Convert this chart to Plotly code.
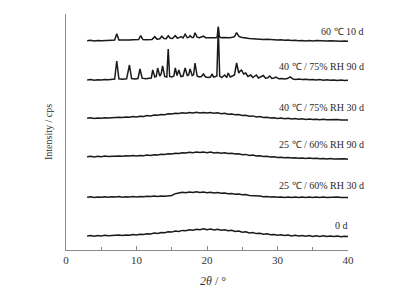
import plotly.graph_objects as go

# ---------------- data ----------------
grid = [3.0, 3.5, 4.0, 4.5, 5.0, 5.5, 6.0, 6.5, 7.0, 7.5, 8.0, 8.5, 9.0, 9.5, 10.0, 10.5,
        11.0, 11.5, 12.0, 12.5, 13.0, 13.5, 14.0, 14.5, 15.0, 15.5, 16.0, 16.5, 17.0, 17.5,
        18.0, 18.5, 19.0, 19.5, 20.0, 20.5, 21.0, 21.5, 22.0, 22.5, 23.0, 23.5, 24.0, 24.5,
        25.0, 25.5, 26.0, 26.5, 27.0, 27.5, 28.0, 28.5, 29.0, 29.5, 30.0, 30.5, 31.0, 31.5,
        32.0, 32.5, 33.0, 33.5, 34.0, 34.5, 35.0, 35.5, 36.0, 36.5, 37.0, 37.5, 38.0, 38.5,
        39.0, 39.5, 40.0]

int_0d = [0.0, 0.5, -0.3, 0.6, 0.0, 0.7, 0.2, 0.5, 0.4, 1.0, 0.5, 1.1, 0.7, 1.5, 1.0, 1.8,
          1.4, 2.3, 2.0, 2.9, 2.5, 3.5, 3.2, 4.2, 3.9, 5.0, 4.5, 5.6, 5.2, 6.3, 5.7, 6.8,
          6.2, 7.3, 6.3, 7.0, 6.1, 6.8, 5.7, 6.2, 5.2, 5.7, 4.5, 5.0, 3.8, 4.2, 3.1, 3.5,
          2.4, 2.8, 1.8, 2.2, 1.2, 1.6, 0.8, 1.2, 0.4, 0.9, 0.1, 0.7, -0.1, 0.5, -0.3, 0.4,
          -0.4, 0.3, -0.5, 0.2, -0.6, 0.0, -0.5, 0.1, -0.7, -0.2, -0.6]

int_25_30d = [0.0, 0.5, -0.2, 0.4, 0.1, 0.6, 0.0, 0.5, 0.2, 0.7, 0.1, 0.6, 0.3, 0.8, 0.4, 0.9,
              0.5, 1.1, 0.7, 1.2, 0.9, 1.4, 1.1, 1.7, 1.8, 3.6, 4.4, 5.0, 4.6, 5.4, 4.8, 5.5,
              4.9, 5.3, 4.6, 5.0, 4.3, 4.7, 4.0, 4.3, 3.6, 3.9, 3.1, 3.3, 2.5, 2.7, 1.9, 1.9,
              1.2, 1.2, 0.6, 0.8, 0.2, 0.5, 0.0, 0.4, -0.1, 0.3, -0.2, 0.3, -0.1, 0.4, -0.2, 0.2,
              -0.3, 0.2, -0.2, 0.3, -0.3, 0.1, -0.2, 0.2, -0.3, 0.1, -0.2]

int_25_90d = [0.0, 0.5, -0.2, 0.4, 0.0, 0.6, 0.1, 0.5, 0.3, 0.8, 0.4, 0.9, 0.6, 1.1, 0.8, 1.3,
              1.0, 1.6, 1.3, 1.9, 1.7, 2.4, 2.1, 2.9, 2.6, 3.4, 3.1, 3.9, 3.6, 4.4, 4.0, 4.7,
              4.1, 4.8, 4.0, 4.6, 3.8, 4.3, 3.5, 4.0, 3.1, 3.5, 2.6, 3.0, 2.0, 2.3, 1.3, 1.6,
              0.7, 1.0, 0.1, 0.4, -0.4, -0.1, -0.8, -0.5, -1.1, -0.7, -1.3, -1.0, -1.5, -1.2,
              -1.7, -1.3, -1.9, -1.5, -2.0, -1.7, -2.2, -1.8, -2.3, -2.0, -2.4, -2.1, -2.5]

int_40_30d = [0.0, 0.5, -0.2, 0.4, 0.1, 0.6, 0.2, 0.7, 0.5, 1.0, 0.7, 1.3, 1.0, 1.7, 1.4, 2.1,
              1.9, 2.7, 2.4, 3.3, 3.0, 3.9, 3.6, 4.5, 4.2, 5.0, 4.7, 5.5, 5.0, 5.8, 5.2, 6.0,
              5.3, 5.9, 5.2, 5.8, 5.0, 5.5, 4.6, 5.0, 4.1, 4.4, 3.5, 3.8, 2.8, 3.1, 2.1, 2.4,
              1.4, 1.7, 0.8, 1.1, 0.3, 0.6, -0.1, 0.3, -0.4, 0.0, -0.7, -0.3, -0.9, -0.5,
              -1.1, -0.7, -1.2, -0.9, -1.4, -1.0, -1.5, -1.2, -1.6, -1.3, -1.8, -1.4, -1.7]

x_40_90d = [3.0, 3.5, 4.0, 4.5, 5.0, 5.5, 6.0, 6.5, 6.9, 7.2, 7.5, 8.0, 8.6, 9.0, 9.3, 9.8,
            10.2, 10.5, 10.8, 11.3, 11.8, 12.1, 12.3, 12.6, 12.8, 13.0, 13.3, 13.5, 13.7, 14.0,
            14.3, 14.5, 14.7, 15.0, 15.3, 15.5, 15.75, 16.0, 16.3, 16.6, 16.9, 17.2, 17.4, 17.6,
            17.9, 18.1, 18.3, 18.6, 18.9, 19.2, 19.5, 19.8, 20.2, 20.5, 20.7, 20.95, 21.2, 21.4,
            21.6, 21.8, 22.1, 22.5, 22.8, 23.0, 23.3, 23.6, 23.9, 24.2, 24.5, 24.7, 24.9, 25.2,
            25.5, 25.8, 26.2, 26.5, 27.0, 27.3, 27.6, 28.0, 28.3, 28.6, 28.9, 29.2, 29.5, 29.8,
            30.2, 30.6, 31.0, 31.4, 31.8, 32.2, 32.6, 33.0, 33.5, 34.0, 34.5, 35.0, 35.5, 36.0,
            36.5, 37.0, 37.5, 38.0, 38.5, 39.0, 39.5, 40.0]
int_40_90d = [0.0, 0.4, -0.2, 0.3, 0.0, 0.5, 0.2, 0.6, 1.0, 19.0, 1.2, 0.8, 1.2, 15.0, 1.4, 1.0,
              1.5, 11.0, 1.8, 1.2, 1.6, 2.0, 10.0, 3.0, 3.5, 12.0, 4.0, 6.0, 14.0, 3.5,
              3.0, 31.0, 3.5, 3.0, 4.0, 12.0, 4.5, 10.0, 3.5, 4.0, 12.0, 4.5, 5.0, 11.0,
              4.5, 5.5, 17.0, 4.0, 3.0, 3.5, 6.0, 3.0, 2.5, 3.0, 6.0, 3.0, 3.5, 4.0,
              52.0, 4.0, 2.5, 5.0, 2.5, 7.0, 3.0, 4.0, 5.0, 17.0, 7.0, 9.0, 10.0, 6.0,
              7.0, 3.5, 5.0, 2.5, 5.0, 2.0, 3.0, 4.5, 1.8, 2.2, 4.0, 1.6, 2.0, 3.0,
              1.2, 1.5, 1.0, 1.4, 3.2, 0.9, 0.6, 1.0, 0.4, 0.7, 0.2, 0.5, 0.0, 0.4,
              -0.2, 0.2, -0.3, 0.1, -0.4, 0.0, -0.5, -0.3]

x_60_10d = [3.0, 3.5, 4.0, 4.5, 5.0, 5.5, 6.0, 6.5, 6.9, 7.2, 7.5, 8.0, 8.5, 9.0, 9.5, 10.0,
            10.3, 10.6, 10.9, 11.3, 11.8, 12.2, 12.6, 12.9, 13.3, 13.6, 13.9, 14.2, 14.5, 14.8,
            15.1, 15.5, 15.8, 16.0, 16.3, 16.6, 16.9, 17.2, 17.4, 17.6, 17.9, 18.1, 18.3, 18.6,
            18.9, 19.2, 19.5, 19.8, 20.2, 20.6, 21.0, 21.3, 21.45, 21.6, 21.75, 22.0, 22.4, 22.8,
            23.2, 23.6, 23.9, 24.2, 24.5, 24.8, 25.1, 25.5, 26.0, 26.5, 27.0, 27.5, 28.0, 28.5,
            29.0, 29.5, 30.0, 30.5, 31.0, 31.5, 32.0, 32.5, 33.0, 33.5, 34.0, 34.5, 35.0, 35.5,
            36.0, 36.5, 37.0, 37.5, 38.0, 38.5, 39.0, 39.5, 40.0]
int_60_10d = [0.0, 0.4, -0.2, 0.3, 0.0, 0.4, 0.1, 0.5, 0.6, 7.0, 0.8, 0.5, 0.9, 0.6, 1.0, 0.8,
              1.2, 5.0, 1.2, 1.0, 1.5, 1.3, 4.0, 1.6, 2.0, 4.5, 2.2, 2.0, 5.0, 2.4,
              2.2, 5.0, 2.6, 2.8, 4.0, 2.7, 6.5, 3.0, 3.3, 5.0, 3.0, 3.5, 8.0, 3.6,
              3.0, 3.4, 4.5, 3.0, 3.2, 2.8, 3.3, 3.0, 4.0, 14.0, 4.0, 3.0, 3.2, 2.8,
              3.0, 3.5, 4.0, 8.0, 4.5, 3.5, 3.0, 2.8, 2.2, 2.0, 1.6, 1.8, 1.2, 1.4,
              0.9, 1.1, 0.6, 0.9, 0.4, 0.7, 0.2, 0.5, 0.0, 0.3, -0.2, 0.2, -0.3, 0.1,
              -0.3, 0.0, -0.4, -0.1, -0.4, -0.2, -0.5, -0.3, -0.5]

sample_labels = ["0 d", "25 ℃ / 60% RH 30 d", "25 ℃ / 60% RH 90 d",
                 "40 ℃ / 75% RH 30 d", "40 ℃ / 75% RH 90 d", "60 ℃ 10 d"]
offsets = [14.0, 52.7, 93.3, 131.7, 170.0, 209.3]
x_tick_vals = [0, 10, 20, 30, 40]
x_title = "<i>2θ</i> / °"
y_title = "Intensity / cps"

series_x = [grid, grid, grid, grid, x_40_90d, x_60_10d]
series_y = [int_0d, int_25_30d, int_25_90d, int_40_30d, int_40_90d, int_60_10d]

# label placement (style): right edge in paper units, vertical offset above trace
label_px = [1.0075, 1.064, 1.064, 1.064, 1.064, 1.064]
label_dy = [11.0, 12.0, 12.0, 11.0, 14.0, 9.0]

SERIF = "Liberation Serif, Times New Roman, serif"

fig = go.Figure()
for xs, ys, off, name in zip(series_x, series_y, offsets, sample_labels):
    fig.add_trace(go.Scatter(
        x=xs, y=[v + off for v in ys], mode="lines", name=name,
        line=dict(color="#1a1a1a", width=1.5), showlegend=False, hoverinfo="skip"))

for name, off, lx, dy in zip(sample_labels, offsets, label_px, label_dy):
    fig.add_annotation(x=lx, y=off + dy, xref="paper", yref="y", text=name,
                       showarrow=False, xanchor="right", yanchor="middle",
                       font=dict(family=SERIF, size=10, color="#2a2a2a"))

fig.add_annotation(x=0.52, y=0, xref="paper", yref="paper", text=x_title,
                   showarrow=False, xanchor="center", yanchor="middle", yshift=-31,
                   font=dict(family=SERIF, size=12, color="#333"))
fig.add_annotation(x=-18 / 282, y=0.5, xref="paper", yref="paper", text=y_title,
                   showarrow=False, xanchor="center", yanchor="middle", textangle=-90,
                   font=dict(family=SERIF, size=10, color="#333"))

# the page body adds an 8px margin, so the figure is sized to fit the window
fig.update_layout(
    width=401, height=281,
    margin=dict(l=58, r=61, t=6, b=39),
    paper_bgcolor="white", plot_bgcolor="white",
    xaxis=dict(range=[0, 40], tickvals=x_tick_vals, showline=True, linecolor="#8a8a8a",
               linewidth=1, ticks="inside", ticklen=4, tickcolor="#8a8a8a",
               minor=dict(ticks="inside", dtick=5, ticklen=3, tickcolor="#8a8a8a"),
               showgrid=False, zeroline=False,
               tickfont=dict(family=SERIF, size=11, color="#333")),
    yaxis=dict(range=[0, 236], showline=True, linecolor="#8a8a8a", linewidth=1,
               showticklabels=False, ticks="", showgrid=False, zeroline=False),
)

fig.write_html("out.html")
